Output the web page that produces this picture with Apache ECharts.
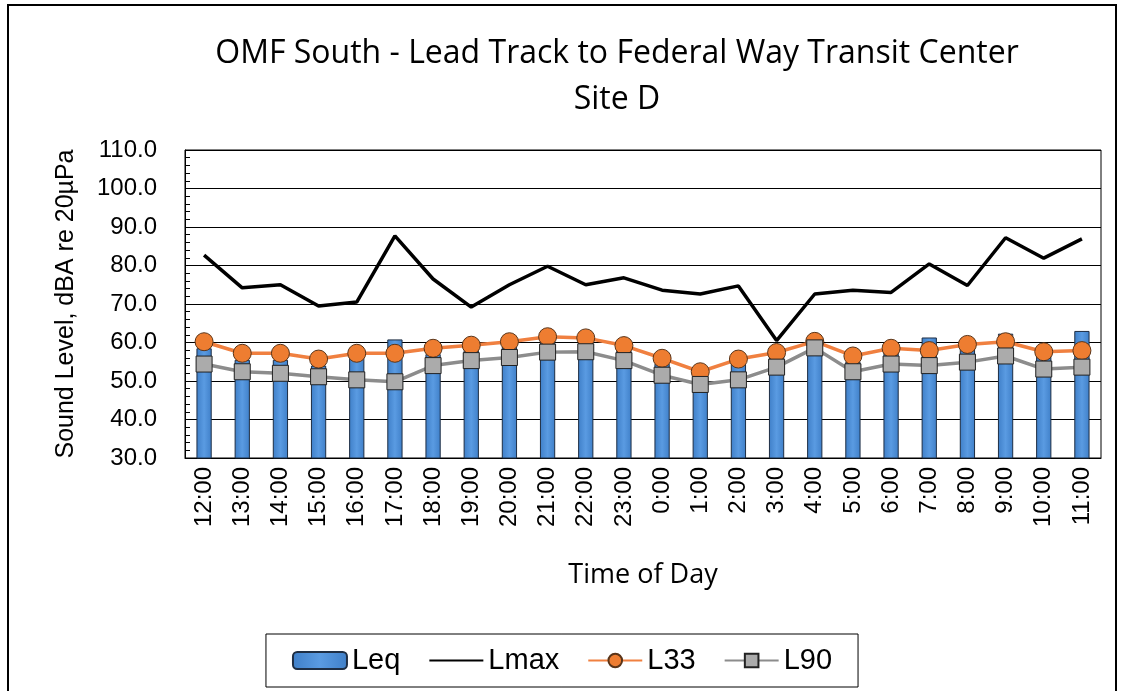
<!DOCTYPE html>
<html>
<head>
<meta charset="utf-8">
<script src="https://cdn.jsdelivr.net/npm/echarts@6/dist/echarts.min.js"></script>
<style>
  html, body { margin: 0; padding: 0; background: #fff; }
  #main { width: 1124px; height: 691px; }
</style>
</head>
<body>
<div id="main"></div>
<script>
// 数据
const hours = ['12:00','13:00','14:00','15:00','16:00','17:00','18:00','19:00','20:00','21:00','22:00','23:00',
  '0:00','1:00','2:00','3:00','4:00','5:00','6:00','7:00','8:00','9:00','10:00','11:00']
const leq  = [58.5,55.5,55.5,54.0,56.0,60.8,57.0,58.0,59.0,60.5,60.5,58.0,54.5,51.5,54.5,56.5,60.0,55.0,57.5,61.3,58.5,62.3,57.0,63.0]
const lmax = [82.7,74.2,75.0,69.5,70.5,87.7,76.5,69.2,75.0,79.8,75.0,76.8,73.6,72.6,74.7,60.5,72.6,73.6,73.0,80.4,74.8,87.2,81.9,86.9]
const l33  = [60.2,57.2,57.2,55.7,57.2,57.2,58.5,59.3,60.2,61.5,61.2,59.2,55.9,52.4,55.7,57.4,60.3,56.5,58.5,57.9,59.5,60.2,57.6,57.9]
const l90  = [54.4,52.4,52.0,51.1,50.3,49.8,54.0,55.3,56.1,57.5,57.6,55.3,51.5,49.1,50.3,53.6,58.6,52.4,54.4,54.0,54.9,56.5,53.1,53.6]

const myChart = echarts.init(document.querySelector('#main'))

const option = {
  animation: false,
  title: {
    text: 'OMF South - Lead Track to Federal Way Transit Center\nSite D',
    left: 612,
    textAlign: 'center',
    top: 26,
    textStyle: {
      fontFamily: 'Open Sans',
      fontWeight: 'normal',
      fontSize: 32,
      color: '#000',
      lineHeight: 46
    }
  },
  graphic: [{
    type: 'rect',
    shape: { x: 8, y: 5, width: 1108, height: 700 },
    style: { fill: 'none', stroke: '#000', lineWidth: 2 },
    silent: true
  }],
  grid: {
    left: 185,
    right: 23,
    top: 150,
    bottom: 233,
    show: true,
    borderColor: '#000',
    borderWidth: 1
  },
  legend: {
    left: 'center',
    top: 634,
    padding: [12, 26],
    itemGap: 28,
    itemWidth: 54,
    itemHeight: 17,
    borderColor: '#000',
    borderWidth: 1,
    textStyle: { fontFamily: 'Liberation Sans', fontSize: 29, color: '#000' },
    data: ['Leq', { name: 'Lmax', itemStyle: { opacity: 0 } }, 'L33', 'L90']
  },
  xAxis: {
    type: 'category',
    data: hours,
    boundaryGap: true,
    name: 'Time of Day',
    nameLocation: 'middle',
    nameGap: 104,
    nameTextStyle: { fontFamily: 'Open Sans', fontSize: 27, color: '#000' },
    axisLine: { lineStyle: { color: '#000', width: 1 } },
    axisTick: { inside: true, length: 6, lineStyle: { color: '#000' } },
    axisLabel: {
      rotate: 90,
      interval: 0,
      margin: 9,
      fontFamily: 'Liberation Sans',
      fontSize: 24,
      color: '#000'
    }
  },
  yAxis: {
    type: 'value',
    min: 30,
    max: 110,
    interval: 10,
    name: 'Sound Level, dBA re 20µPa',
    nameLocation: 'middle',
    nameGap: 106,
    nameTextStyle: { fontFamily: 'Liberation Sans', fontSize: 25, color: '#000' },
    axisLine: { show: true, lineStyle: { color: '#000', width: 1 } },
    axisTick: { show: true, inside: true, length: 7, lineStyle: { color: '#000' } },
    minorTick: { show: true, splitNumber: 5, length: 5, lineStyle: { color: '#000' } },
    splitLine: { lineStyle: { color: '#000', width: 1 } },
    axisLabel: {
      margin: 28,
      formatter: v => v.toFixed(1),
      fontFamily: 'Liberation Sans',
      fontSize: 24,
      color: '#000'
    }
  },
  series: [
    {
      name: 'Leq',
      type: 'bar',
      data: leq,
      barWidth: '40%',
      itemStyle: {
        color: {
          type: 'linear', x: 0, y: 0, x2: 1, y2: 0,
          colorStops: [
            { offset: 0, color: '#3F7FC8' },
            { offset: 0.5, color: '#5A9BE2' },
            { offset: 1, color: '#3F7FC8' }
          ]
        },
        borderColor: '#1E2E44',
        borderWidth: 1
      },
      z: 1
    },
    {
      name: 'Lmax',
      type: 'line',
      data: lmax,
      showSymbol: false,
      symbol: 'none',
      lineStyle: { color: '#000', width: 3.5 },
      itemStyle: { color: '#000' },
      z: 3
    },
    {
      name: 'L33',
      type: 'line',
      data: l33,
      symbol: 'circle',
      symbolSize: 18,
      lineStyle: { color: '#F08040', width: 3.5 },
      itemStyle: { color: '#EE7D31', borderColor: '#5A3418', borderWidth: 1 },
      z: 4
    },
    {
      name: 'L90',
      type: 'line',
      data: l90,
      symbol: 'rect',
      symbolSize: 16,
      lineStyle: { color: '#8C8C8C', width: 3.5 },
      itemStyle: { color: '#ABABAB', borderColor: '#222', borderWidth: 1 },
      z: 5
    }
  ]
}

myChart.setOption(option)
</script>
</body>
</html>
